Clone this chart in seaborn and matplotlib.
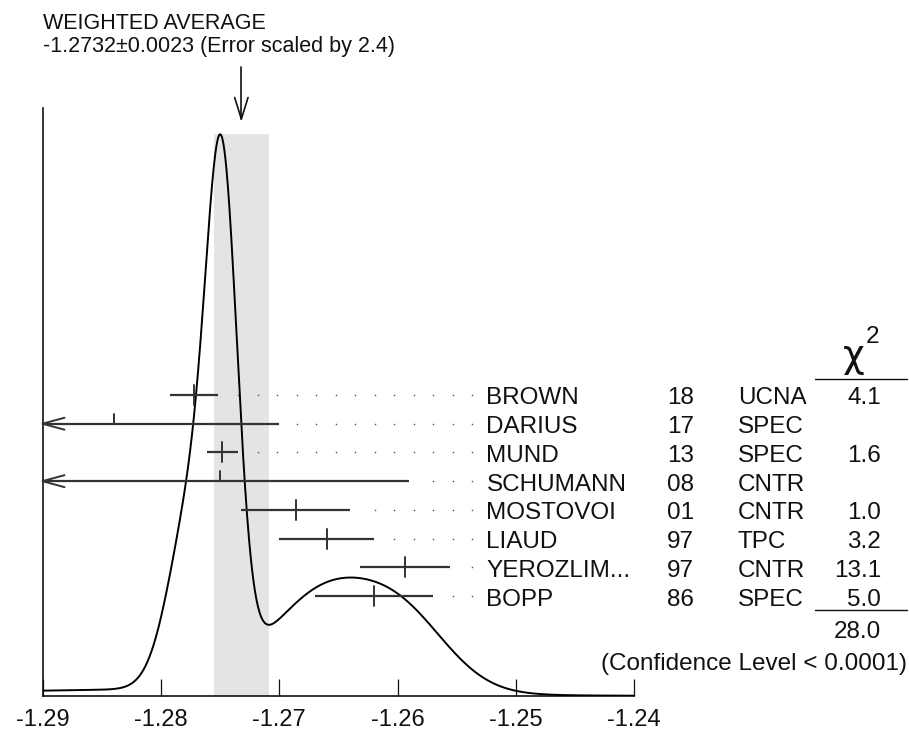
import numpy as np
import pandas as pd
import matplotlib
matplotlib.use("Agg")
import matplotlib.pyplot as plt
from matplotlib.lines import Line2D
import seaborn as sns

# ---------------- data ----------------
names = ["BROWN", "DARIUS", "MUND", "SCHUMANN", "MOSTOVOI", "LIAUD", "YEROZLIM...", "BOPP"]
years = ["18", "17", "13", "08", "01", "97", "97", "86"]
techs = ["UCNA", "SPEC", "SPEC", "CNTR", "CNTR", "TPC", "CNTR", "SPEC"]
values = [-1.2772, -1.284, -1.2748, -1.275, -1.2686, -1.266, -1.2594, -1.262]
errors = [0.0020, 0.014, 0.0013, 0.016, 0.0046, 0.0040, 0.0038, 0.0050]
chi2 = ["4.1", "", "1.6", "", "1.0", "3.2", "13.1", "5.0"]
chi2_total = "28.0"
avg_value = -1.2732
avg_error = 0.0023
title_lines = ["WEIGHTED AVERAGE", "-1.2732\u00b10.0023 (Error scaled by 2.4)"]
conf_text = "(Confidence Level < 0.0001)"
xticks = [-1.29, -1.28, -1.27, -1.26, -1.25, -1.24]
xticklabels = ["-1.29", "-1.28", "-1.27", "-1.26", "-1.25", "-1.24"]

# ---------------- style ----------------
sns.set_theme(style="white")
plt.rcParams["font.family"] = ["Liberation Sans", "DejaVu Sans"]

W, H = 909, 731
fig = plt.figure(figsize=(W / 100, H / 100), dpi=100)

AX_L, AX_B, AX_T = 42.5, 696.0, 108.0
X0 = xticks[0]
PXU = 11836.0           # pixels per x unit
Y_PX = 561.7            # pixels per normalized ideogram unit
xmax = X0 + (W - AX_L) / PXU
ymax = (AX_B - AX_T) / Y_PX

ax = fig.add_axes([AX_L / W, (H - AX_B) / H, (W - AX_L) / W, (AX_B - AX_T) / H])
ax.set_xlim(X0, xmax)
ax.set_ylim(0, ymax)
ax.set_facecolor("none")


def dx(px):
    return X0 + (px - AX_L) / PXU


def dy(py):
    return (AX_B - py) / Y_PX


def ddx(px):
    return px / PXU


def ddy(px):
    return px / Y_PX


def fx(px):
    return px / W


def fy(py):
    return 1 - py / H


INK = "#111111"
BAR = "#333333"

# ---------------- ideogram curve ----------------
xg = np.linspace(xticks[0], xticks[-1], 1201)
v = np.array(values)
e = np.array(errors)
curve = np.sum((1 / e[:, None] ** 2) * np.exp(-0.5 * ((xg[None, :] - v[:, None]) / e[:, None]) ** 2), axis=0)
curve = curve / curve.max()
df = pd.DataFrame({"x": xg, "y": curve})

# shaded band for the weighted average
ax.fill_between([avg_value - avg_error, avg_value + avg_error], 0, 1,
                color="#e4e4e4", lw=0, zorder=0)

sns.lineplot(data=df, x="x", y="y", ax=ax, color="black", lw=1.4, zorder=3,
             estimator=None, sort=False)

# ---------------- measurements ----------------
ROW0, ROWSTEP = 395.0, 28.72
for i, (val, err) in enumerate(zip(values, errors)):
    py = ROW0 + i * ROWSTEP
    y = dy(py)
    lo, hi = val - err, val + err
    truncated = lo < X0
    lo_draw = max(lo, X0)
    ax.plot([lo_draw, hi], [y, y], color=BAR, lw=1.6, zorder=4, solid_capstyle="butt")
    if truncated:
        ax.plot([X0 + ddx(22), X0, X0 + ddx(22)], [y + ddy(6), y, y - ddy(6)],
                color=BAR, lw=1.4, zorder=4, clip_on=False)
        ax.plot([val, val], [y, y + ddy(10)], color=BAR, lw=1.4, zorder=4)
    else:
        ax.plot([val, val], [y - ddy(10), y + ddy(10)], color=BAR, lw=1.4, zorder=4)
    # dotted leader
    hi_px = AX_L + (hi - X0) * PXU
    dots = []
    xp = 472.3
    while xp > hi_px + 14:
        dots.append(dx(xp))
        xp -= 19.5
    ax.scatter(dots, [y] * len(dots), s=1.3, color="#555555", lw=0, zorder=4)

    base = py + 9.5
    fs = 17.5
    fig.text(fx(486.5), fy(base), names[i], fontsize=fs, va="baseline", ha="left", color=INK)
    fig.text(fx(667), fy(base), years[i], fontsize=fs, va="baseline", ha="left", color=INK)
    fig.text(fx(738), fy(base), techs[i], fontsize=fs, va="baseline", ha="left", color=INK)
    if chi2[i]:
        fig.text(fx(881), fy(base), chi2[i], fontsize=fs, va="baseline", ha="right", color=INK)

# chi-square header, lines and total
fig.text(fx(854), fy(367), "\u03c7", fontsize=27, va="baseline", ha="center", color=INK,
         family=["DejaVu Sans"])
fig.text(fx(866), fy(343), "2", fontsize=17.5, va="baseline", ha="left", color=INK)
fig.add_artist(Line2D([fx(815), fx(907)], [fy(379), fy(379)], color=INK, lw=1.0))
fig.add_artist(Line2D([fx(815), fx(907)], [fy(610), fy(610)], color=INK, lw=1.0))
fig.text(fx(881), fy(638), chi2_total, fontsize=17.5, va="baseline", ha="right", color=INK)
fig.text(fx(907), fy(670), conf_text, fontsize=17.5, va="baseline", ha="right", color=INK)

# title + arrow
fig.text(fx(43), fy(29), title_lines[0], fontsize=15.5, va="baseline", ha="left", color=INK)
fig.text(fx(43), fy(52), title_lines[1], fontsize=15.5, va="baseline", ha="left", color=INK)
ax.plot([avg_value, avg_value], [dy(67), dy(119)], color=INK, lw=1.2, clip_on=False)
ax.plot([avg_value - ddx(6.7), avg_value, avg_value + ddx(6.7)],
        [dy(97.5), dy(119), dy(97.5)], color=INK, lw=1.2, clip_on=False)

# ---------------- axes ----------------
for s in ["top", "right"]:
    ax.spines[s].set_visible(False)
for s in ["left", "bottom"]:
    ax.spines[s].set_color(INK)
    ax.spines[s].set_linewidth(1.2)
ax.spines["bottom"].set_bounds(xticks[0], xticks[-1])
ax.set_xticks(xticks)
ax.set_xticklabels(xticklabels)
ax.set_yticks([])
ax.tick_params(axis="x", direction="in", length=12.2, width=0.9, pad=9,
               labelsize=17, colors=INK, bottom=True)
ax.set_xlabel("")
ax.set_ylabel("")

fig.savefig("out.png", dpi=100)
